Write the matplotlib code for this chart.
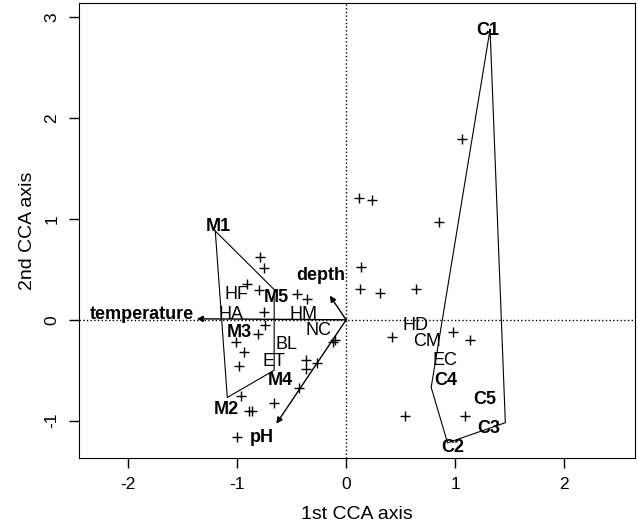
import numpy as np
import matplotlib.pyplot as plt

plt.rcParams['font.family'] = ['Liberation Sans', 'DejaVu Sans']
plt.rcParams['axes.unicode_minus'] = False

## site scores (crosses)
site_x = [-0.79, -0.75, -0.91, -0.80, -0.45, -0.36, -0.75, -0.74, -0.81, -1.01,
          -0.94, -0.98, -0.37, -0.27, -0.37, -0.12, -0.10, -0.43, -0.96, -0.89,
          -0.86, -0.66, -1.00, 0.12, 0.24, 0.85, 0.14, 0.13, 0.31, 0.64,
          0.42, 0.98, 1.14, 1.06, 0.54, 1.09]
site_y = [0.62, 0.51, 0.36, 0.30, 0.26, 0.21, 0.08, -0.05, -0.14, -0.22,
          -0.32, -0.46, -0.40, -0.43, -0.49, -0.22, -0.20, -0.68, -0.76, -0.90,
          -0.90, -0.82, -1.16, 1.21, 1.19, 0.97, 0.52, 0.31, 0.27, 0.31,
          -0.17, -0.12, -0.20, 1.79, -0.95, -0.95]

## species labels
sp_names = ['HF', 'HA', 'HM', 'NC', 'BL', 'ET', 'HD', 'CM', 'EC']
sp_x = [-1.01, -1.06, -0.39, -0.25, -0.55, -0.66, 0.64, 0.74, 0.91]
sp_y = [0.25, 0.05, 0.05, -0.11, -0.24, -0.41, -0.06, -0.22, -0.40]

## environmental arrows
env_names = ['temperature', 'depth', 'pH']
env_x = [-1.37, -0.15, -0.64]
env_y = [0.01, 0.24, -1.03]
env_lab_x = [-1.40, -0.23, -0.77]
env_lab_y = [0.05, 0.44, -1.17]

## group hulls
hull_M_x = [-1.20, -0.66, -0.66, -1.09, -1.20]
hull_M_y = [0.88, 0.30, -0.50, -0.77, 0.88]
hull_C_x = [1.32, 1.46, 0.93, 0.78, 1.32]
hull_C_y = [2.88, -1.02, -1.22, -0.67, 2.88]
grp_names = ['M1', 'M2', 'M3', 'M4', 'M5', 'C1', 'C2', 'C3', 'C4', 'C5']
grp_x = [-1.17, -1.10, -0.98, -0.60, -0.64, 1.30, 0.98, 1.31, 0.91, 1.27]
grp_y = [0.93, -0.89, -0.13, -0.60, 0.22, 2.87, -1.27, -1.08, -0.60, -0.79]

fig = plt.figure(figsize=(6.37, 5.24), dpi=100)
ax = fig.add_axes([0.124, 0.126, 0.873, 0.868])

ax.axhline(0, color='black', ls=':', lw=1)
ax.axvline(0, color='black', ls=':', lw=1)

ax.plot(site_x, site_y, '+', color='black', ms=6.5, mew=1)

ax.plot(hull_M_x, hull_M_y, color='black', lw=0.8)
ax.plot(hull_C_x, hull_C_y, color='black', lw=0.8)

for n, x, y in zip(sp_names, sp_x, sp_y):
    ax.text(x, y, n, fontsize=13, ha='center', va='center')

for n, x, y, lx, ly in zip(env_names, env_x, env_y, env_lab_x, env_lab_y):
    ax.annotate('', xy=(x, y), xytext=(0, 0),
                arrowprops=dict(arrowstyle='-|>', color='black', lw=1,
                                mutation_scale=9, shrinkA=0, shrinkB=0))
    ha = 'right' if n == 'temperature' else 'center'
    ax.text(lx, ly, n, fontsize=13, fontweight='bold', ha=ha, va='center')

for n, x, y in zip(grp_names, grp_x, grp_y):
    ax.text(x, y, n, fontsize=13, fontweight='bold', ha='center', va='center')

ax.set_xlim(-2.45, 2.65)
ax.set_ylim(-1.37, 3.14)
ax.set_xticks([-2, -1, 0, 1, 2])
ax.set_yticks([-1, 0, 1, 2, 3])
ax.tick_params(direction='out', length=7, labelsize=12.5, width=1, pad=7)
for lab in ax.get_yticklabels():
    lab.set_rotation(90)
    lab.set_va('center')
ax.set_xlabel('1st CCA axis', fontsize=14, labelpad=10)
ax.set_ylabel('2nd CCA axis', fontsize=14, labelpad=6)

plt.savefig('out.png')
